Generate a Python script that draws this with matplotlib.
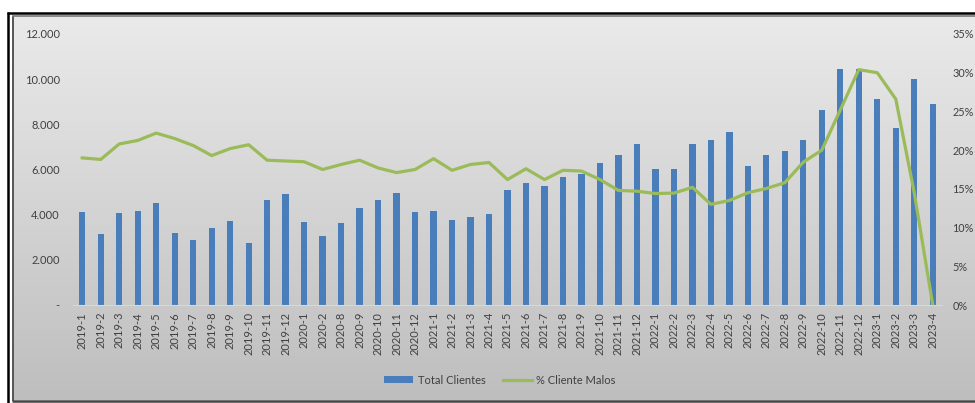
import numpy as np
import matplotlib
matplotlib.use("Agg")
import matplotlib.pyplot as plt
from matplotlib.patches import Patch
from matplotlib.lines import Line2D
from matplotlib.ticker import FuncFormatter, MultipleLocator

plt.rcParams['font.family'] = ['Lato', 'DejaVu Sans']

periods = [
    "2019-1", "2019-2", "2019-3", "2019-4", "2019-5", "2019-6", "2019-7", "2019-8",
    "2019-9", "2019-10", "2019-11", "2019-12",
    "2020-1", "2020-2", "2020-8", "2020-9", "2020-10", "2020-11", "2020-12",
    "2021-1", "2021-2", "2021-3", "2021-4", "2021-5", "2021-6", "2021-7", "2021-8",
    "2021-9", "2021-10", "2021-11", "2021-12",
    "2022-1", "2022-2", "2022-3", "2022-4", "2022-5", "2022-6", "2022-7", "2022-8",
    "2022-9", "2022-10", "2022-11", "2022-12",
    "2023-1", "2023-2", "2023-3", "2023-4",
]

total_clientes = [
    4100, 3140, 4070, 4160, 4500, 3200, 2860, 3420, 3730, 2730, 4650, 4930,
    3670, 3070, 3630, 4290, 4660, 4970, 4100,
    4170, 3760, 3890, 4010, 5100, 5410, 5250, 5650, 5810, 6280, 6640, 7120,
    6020, 6020, 7140, 7300, 7670, 6150, 6620, 6830, 7300, 8630, 10460, 10460,
    9100, 7850, 10000, 8910,
]

pct_malos = [
    19.0, 18.8, 20.8, 21.25, 22.2, 21.5, 20.6, 19.3, 20.2, 20.7, 18.7, 18.6,
    18.5, 17.5, 18.15, 18.7, 17.7, 17.1, 17.5,
    18.9, 17.4, 18.15, 18.4, 16.2, 17.6, 16.2, 17.4, 17.3, 16.2, 14.8, 14.7,
    14.4, 14.45, 15.2, 13.0, 13.5, 14.5, 15.05, 15.8, 18.45, 20.0, 25.2, 30.4,
    30.0, 26.6, 14.5, 0.0,
]

W, H = 975, 403
fig = plt.figure(figsize=(W / 100, H / 100), dpi=100)

# Background panel with vertical grey gradient and double frame
bg = fig.add_axes([0, 0, 1, 1], zorder=-10)
bg.set_xlim(0, W)
bg.set_ylim(H, 0)
bg.axis('off')
grad = np.linspace(0, 1, 256).reshape(-1, 1)
top_c = np.array([0.918, 0.918, 0.918])
bot_c = np.array([0.745, 0.745, 0.745])
img = top_c[None, None, :] * (1 - grad[..., None]) + bot_c[None, None, :] * grad[..., None]
bg.imshow(img, extent=[13, W + 5, 400, 16], aspect='auto', interpolation='bilinear')
bg.plot([7.5, 7.5], [12, 403], color='black', lw=1.8, solid_capstyle='butt')
bg.plot([7, W + 5], [12.5, 12.5], color='black', lw=1.8, solid_capstyle='butt')
bg.plot([12.5, 12.5], [15.5, 401], color='#555555', lw=1.4, solid_capstyle='butt')
bg.plot([12, W + 5], [15.8, 15.8], color='#777777', lw=1.2, solid_capstyle='butt')
bg.plot([12, W + 5], [400.5, 400.5], color='#444444', lw=1.8, solid_capstyle='butt')

left, right = 73 / W, 942 / W
bottom, top = 1 - 305 / H, 1 - 34 / H
ax = fig.add_axes([left, bottom, right - left, top - bottom])
ax.set_facecolor('none')
x = np.arange(len(periods))

bar_color = '#4a7ebb'
line_color = '#9bbb59'
text_color = '#404040'

ax.bar(x, total_clientes, width=0.34, color=bar_color, zorder=2)
ax.set_xlim(-0.5, len(periods) - 0.5)
ax.set_ylim(0, 12000)
ax.yaxis.set_major_locator(MultipleLocator(2000))
ax.yaxis.set_major_formatter(FuncFormatter(
    lambda v, p: '-' if v == 0 else f"{int(v):,}".replace(',', '.')))
ax.set_xticks(x)
ax.set_xticklabels(periods, rotation=90, fontsize=8, color=text_color)
ax.tick_params(axis='x', length=0, pad=5)
ax.tick_params(axis='y', length=0, pad=9.5, labelsize=8, labelcolor=text_color)
for s in ['top', 'right', 'left']:
    ax.spines[s].set_visible(False)
ax.spines['bottom'].set_color('#d9d9d9')
ax.spines['bottom'].set_linewidth(0.8)

ax2 = ax.twinx()
ax2.plot(x, pct_malos, color=line_color, lw=2.3, zorder=3, solid_joinstyle='round')
ax2.set_ylim(0, 35)
ax2.yaxis.set_major_locator(MultipleLocator(5))
ax2.yaxis.set_major_formatter(FuncFormatter(lambda v, p: f"{int(round(v))}%"))
ax2.tick_params(axis='y', length=0, pad=7.5, labelsize=7.8, labelcolor=text_color)
for s in ['top', 'right', 'left', 'bottom']:
    ax2.spines[s].set_visible(False)

handles = [Patch(facecolor=bar_color, edgecolor='none'),
           Line2D([0], [0], color=line_color, lw=2.3)]
fig.legend(handles, ['Total Clientes', '% Cliente Malos'], loc='center',
           bbox_to_anchor=(500 / W, 1 - 380 / H), ncol=2, frameon=False,
           fontsize=8, labelcolor=text_color, handlelength=2.6, handleheight=0.6,
           handletextpad=0.4, columnspacing=1.6)

fig.savefig('out.png', dpi=100)
